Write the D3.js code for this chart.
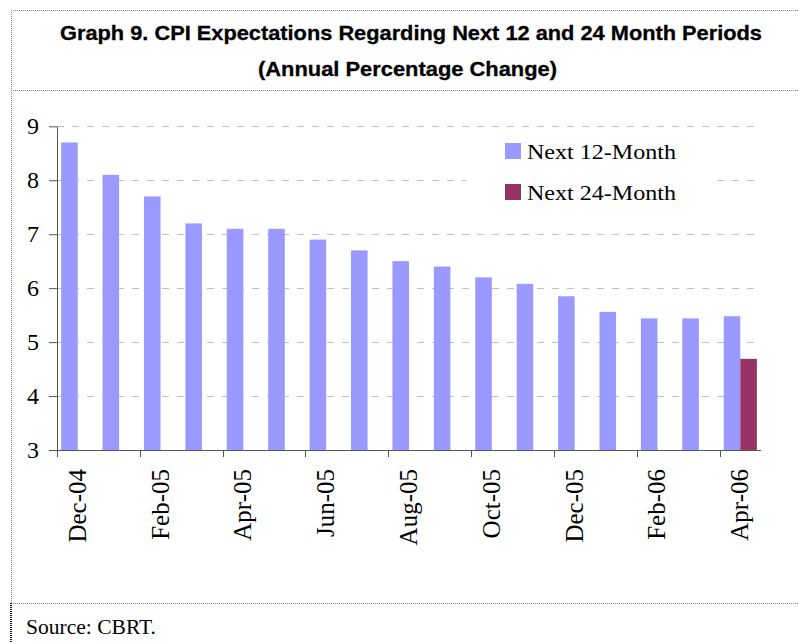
<!DOCTYPE html>
<html>
<head>
<meta charset="utf-8">
<script src="https://cdn.jsdelivr.net/npm/d3@7"></script>
<style>
  html, body { margin: 0; padding: 0; background: #fff; }
  svg { display: block; }
</style>
</head>
<body>
<script>
const categories = ["Dec-04","Jan-05","Feb-05","Mar-05","Apr-05","May-05","Jun-05","Jul-05","Aug-05","Sep-05","Oct-05","Nov-05","Dec-05","Jan-06","Feb-06","Mar-06","Apr-06"];
const next12 = [8.7, 8.1, 7.7, 7.2, 7.1, 7.1, 6.9, 6.7, 6.5, 6.4, 6.2, 6.08, 5.85, 5.56, 5.44, 5.44, 5.48];
const next24 = [null, null, null, null, null, null, null, null, null, null, null, null, null, null, null, null, 4.69];
const seriesNames = ["Next 12-Month", "Next 24-Month"];
const seriesColors = ["#9999ff", "#993366"];
const yTicks = [3, 4, 5, 6, 7, 8, 9];
const xTickLabels = ["Dec-04","Feb-05","Apr-05","Jun-05","Aug-05","Oct-05","Dec-05","Feb-06","Apr-06"];
const titleLines = ["Graph 9. CPI Expectations Regarding Next 12 and 24 Month Periods", "(Annual Percentage Change)"];
const sourceText = "Source: CBRT.";

const W = 798, H = 642;
const svg = d3.select("body").append("svg").attr("width", W).attr("height", H);

// Frame (dotted lines)
const frame = svg.append("g").attr("fill", "none");
frame.append("line").attr("x1", 11).attr("x2", W).attr("y1", 10.5).attr("y2", 10.5)
  .attr("stroke", "#888").attr("stroke-dasharray", "1,1");
frame.append("line").attr("x1", 11).attr("x2", W).attr("y1", 90.5).attr("y2", 90.5)
  .attr("stroke", "#888").attr("stroke-dasharray", "1,1");
frame.append("line").attr("x1", 11).attr("x2", W).attr("y1", 603.5).attr("y2", 603.5)
  .attr("stroke", "#888").attr("stroke-dasharray", "1,1");
frame.append("line").attr("x1", 11.5).attr("x2", 11.5).attr("y1", 10).attr("y2", 603)
  .attr("stroke", "#888").attr("stroke-dasharray", "1,1");
frame.append("line").attr("x1", 11).attr("x2", 11).attr("y1", 603).attr("y2", H)
  .attr("stroke", "#111").attr("stroke-width", 2).attr("stroke-dasharray", "1,1");

// Title
svg.append("text").attr("x", 411).attr("y", 40).attr("text-anchor", "middle")
  .attr("font-family", "'Liberation Sans', Arial, sans-serif").attr("font-weight", "bold")
  .attr("font-size", 20.5).attr("textLength", 702).attr("lengthAdjust", "spacingAndGlyphs")
  .attr("fill", "#000").attr("stroke", "#000").attr("stroke-width", 0.3).text(titleLines[0]);
svg.append("text").attr("x", 407.5).attr("y", 76).attr("text-anchor", "middle")
  .attr("font-family", "'Liberation Sans', Arial, sans-serif").attr("font-weight", "bold")
  .attr("font-size", 20.5).attr("textLength", 299).attr("lengthAdjust", "spacingAndGlyphs")
  .attr("fill", "#000").attr("stroke", "#000").attr("stroke-width", 0.3).text(titleLines[1]);

// Scales
const x = d3.scaleBand().domain(categories).range([57, 761]).paddingInner(0).paddingOuter(0);
const x1 = d3.scaleBand().domain(seriesNames).range([0, x.bandwidth()]).paddingInner(0).paddingOuter(0.25);
const y = d3.scaleLinear().domain([3, 9]).range([450, 126.3]);

// Gridlines
svg.append("g").selectAll("line").data(yTicks.slice(1)).join("line")
  .attr("x1", 57).attr("x2", 757)
  .attr("y1", d => Math.round(y(d)) + 0.5).attr("y2", d => Math.round(y(d)) + 0.5)
  .attr("stroke", "#c0c0c0").attr("stroke-dasharray", "7,8");

// Bars
const data = categories.map((c, i) => ({ cat: c, vals: [next12[i], next24[i]] }));
const groups = svg.append("g").selectAll("g").data(data).join("g")
  .attr("transform", d => `translate(${x(d.cat)},0)`);
groups.selectAll("rect")
  .data(d => d.vals.map((v, j) => ({ v, s: seriesNames[j], j })).filter(e => e.v != null))
  .join("rect")
  .attr("x", d => x1(d.s))
  .attr("width", x1.bandwidth())
  .attr("y", d => y(d.v))
  .attr("height", d => y(3) - y(d.v))
  .attr("fill", d => seriesColors[d.j]);

// Y axis
const yAxis = svg.append("g").attr("transform", "translate(57,0)")
  .call(d3.axisLeft(y).tickValues(yTicks).tickSize(8).tickPadding(10).tickSizeOuter(0).tickFormat(d3.format("d")));
yAxis.select(".domain").attr("stroke", "#555");
yAxis.selectAll(".tick line").attr("stroke", "#555");
yAxis.selectAll("text").attr("font-family", "'Liberation Serif', 'Times New Roman', serif")
  .attr("font-size", 24).attr("fill", "#000");

// X axis
const xg = svg.append("g");
xg.append("line").attr("x1", 57).attr("x2", 761).attr("y1", y(3) + 0.5).attr("y2", y(3) + 0.5)
  .attr("stroke", "#555");
xg.selectAll("line.tk").data(xTickLabels).join("line").attr("class", "tk")
  .attr("x1", d => Math.round(x(d)) + 0.5).attr("x2", d => Math.round(x(d)) + 0.5)
  .attr("y1", y(3)).attr("y2", y(3) + 7).attr("stroke", "#555");
xg.selectAll("text").data(xTickLabels).join("text")
  .attr("transform", d => `translate(${x(d) + x.bandwidth() / 2},469) rotate(-90)`)
  .attr("text-anchor", "end").attr("dy", "0.32em")
  .attr("font-family", "'Liberation Serif', 'Times New Roman', serif")
  .attr("font-size", 25).attr("fill", "#000").text(d => d);

// Legend
const lg = svg.append("g");
lg.append("rect").attr("x", 466).attr("y", 130).attr("width", 250).attr("height", 85).attr("fill", "#fff");
const legY = [143, 184];
seriesNames.forEach((s, i) => {
  lg.append("rect").attr("x", 505).attr("y", legY[i]).attr("width", 16).attr("height", 16)
    .attr("fill", seriesColors[i]);
  lg.append("text").attr("x", 527).attr("y", legY[i] + 15.5)
    .attr("font-family", "'Liberation Serif', 'Times New Roman', serif")
    .attr("font-size", 22).attr("textLength", 149).attr("lengthAdjust", "spacingAndGlyphs")
    .attr("fill", "#000").text(s);
});

// Source
svg.append("text").attr("x", 26).attr("y", 634)
  .attr("font-family", "'Liberation Serif', 'Times New Roman', serif")
  .attr("font-size", 20).attr("textLength", 130).attr("lengthAdjust", "spacingAndGlyphs")
  .attr("fill", "#000").text(sourceText);
</script>
</body>
</html>
